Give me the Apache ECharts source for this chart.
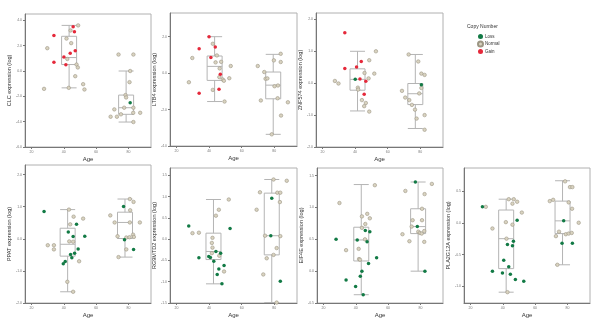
<!DOCTYPE html>
<html>
<head>
<meta charset="utf-8">
<script src="https://cdn.jsdelivr.net/npm/echarts@6/dist/echarts.min.js"></script>
<style>
  html, body { margin: 0; padding: 0; background: #fff; }
  #chart { width: 600px; height: 326px; }
</style>
</head>
<body>
<div id="chart"></div>
<script>
// data: [age, expression]
const ageTicks = [20, 40, 60, 80]

const clcLoss = [[81.1, -2.51]]
const clcNormal = [[48.9, 3.6], [44.2, 3.2], [41.7, 2.56], [44.6, 2.2], [29.8, 1.8], [42.2, 0.95], [47.9, 0.51], [48.7, 0.28], [47.1, -0.41], [43.1, -1.33], [27.8, -1.41], [52, -1.04], [52.8, -1.46], [73.9, 1.3], [83.1, 1.3], [81.1, 0.0], [80.7, -0.88], [78.2, -1.9], [78.6, -2.09], [71.3, -3.03], [77.4, -2.9], [83.1, -2.9], [75.4, -3.42], [69, -3.61], [72.9, -3.61], [83, -3.3], [87.3, -3.3], [83.1, -4.03]]
const clcGain = [[45.8, 3.5], [33.9, 2.8], [46.6, 3.1], [33.9, 0.7], [40.1, 1.1], [44, 1.4], [47.1, 1.6], [41.3, 0.5]]
const clcBox = [[43.3, -1.33, 0.51, 1.06, 2.74, 3.6], [78.6, -4.03, -3.42, -2.9, -1.9, 0.0]]
const clcTicks = [-6, -4, -2, 0, 2, 4]

const ltb4Loss = []
const ltb4Normal = [[42.3, 1.61], [29.7, 0.83], [44.8, 0.97], [47.4, 0.62], [44, 0.59], [53.3, 0.39], [46.5, 0.26], [46.3, -0.22], [48.4, -0.35], [52.4, -0.28], [49.1, -0.42], [27.6, -0.5], [42.3, -0.92], [49.5, -1.56], [69.9, 0.39], [79.8, 0.7], [84, 1.06], [84, 0.61], [73.9, 0.06], [74.7, -0.31], [75.8, -0.29], [82.3, -0.68], [80.2, -0.72], [71.8, -1.5], [82.1, -1.38], [88.4, -1.6], [84.2, -2.33], [78.5, -3.36]]
const ltb4Gain = [[40, 2.0], [33.9, 1.34], [43.8, 1.43], [41.1, 0.86], [46.9, -0.06], [46.1, -0.88], [33.9, -1.1]]
const ltb4Box = [[43.4, -1.56, -0.4, 0.37, 0.94, 2.0], [79.4, -3.36, -1.41, -0.66, 0.06, 1.03]]
const ltb4Ticks = [-4, -2, 0, 2]

const znfLoss = [[40.1, 0.12], [80.7, -0.05]]
const znfNormal = [[52.8, 1.0], [48.7, 0.72], [45.8, 0.32], [51.8, 0.3], [48.3, 0.15], [27.6, 0.07], [29.8, -0.01], [41.7, -0.14], [44.2, -0.53], [46.6, -0.62], [45.6, -0.72], [48.7, -0.89], [41.9, -0.2], [72.9, 0.9], [78.8, 0.68], [80.7, 0.3], [82.7, 0.26], [68.8, -0.24], [70.8, -0.45], [73.3, -0.53], [74.9, -0.68], [76.8, -0.83], [77.8, -1.11], [82.7, -1.0], [82.7, -1.46], [80.7, -0.15], [79.4, -0.32]]
const znfGain = [[33.7, 1.58], [33.7, 0.46], [40.9, 0.51], [43.8, 0.68], [43, 0.13], [46.6, 0.06], [45.6, -0.35]]
const znfBox = [[41.5, -0.87, -0.22, 0.12, 0.45, 1.0], [77, -1.42, -0.67, -0.33, -0.01, 0.9]]
const znfTicks = [-2, -1, 0, 1, 2]

const ppatLoss = [[27.8, 0.85], [42.8, 0.21], [47.9, 0.45], [45.8, 0.07], [53, 0.08], [48.9, -0.32], [46.7, -0.45], [44.2, -0.49], [45, -0.59], [40.9, -0.71], [39.7, -0.78], [77, 1.01], [77.6, -0.03], [83.2, -0.33]]
const ppatNormal = [[43.2, 0.91], [46.1, 0.69], [52, 0.63], [44, 0.45], [30.1, -0.2], [33.9, -0.2], [33.9, -0.33], [43.4, -0.08], [45.8, -0.09], [49.5, -0.7], [42.2, -1.34], [45.8, -1.65], [80.9, 1.24], [83.2, 1.15], [68.8, 0.73], [71.5, 0.51], [81.1, 0.89], [80.9, 0.51], [87.1, 0.51], [73.3, 0.08], [78.7, 0.04], [80.7, 0.05], [82.9, 0.13], [83.4, 0.06], [78.7, -0.33], [73.9, -0.57]]
const ppatGain = []
const ppatBox = [[42.4, -1.65, -0.54, -0.17, 0.33, 0.91], [77.9, -0.57, 0.01, 0.51, 0.83, 1.24]]
const ppatTicks = [-2, -1, 0, 1, 2]

const rgLoss = [[27.5, 0.31], [33.75, -0.44], [39.8, -0.41], [40.8, -0.43], [42.9, -0.52], [44.2, -0.29], [47.1, -0.33], [52.9, 0.25], [46, -0.7], [49.2, -0.62], [45, -0.83], [47.9, -1.05], [78.5, 0.96], [77.9, 0.08], [83.75, -0.99]]
const rgNormal = [[29.8, 0.14], [33.75, 0.15], [42.1, 0.03], [41.7, -0.09], [42.1, -0.2], [41.7, -0.33], [44.2, 0.55], [46, 0.69], [52.1, 0.93], [46.25, -0.39], [49.2, -0.76], [71.25, 1.1], [69.2, 0.69], [79.6, 1.4], [87.7, 1.37], [81.9, 1.09], [83.75, 1.09], [83.5, 0.87], [74.4, 0.08], [83.75, 0.07], [81.5, -0.21], [79.6, -0.37], [75.4, -0.45], [73.3, -0.83], [81.5, -1.49]]
const rgGain = []
const rgBox = [[42.7, -1.05, -0.48, -0.29, 0.14, 0.93], [78.5, -1.49, -0.37, 0.08, 1.08, 1.4]]
const rgTicks = [-1.5, -1, -0.5, 0, 0.5, 1, 1.5]

const eifLoss = [[27.8, 0.5], [40.9, 0.49], [45.9, 0.64], [48.7, 0.62], [47, 0.46], [52.9, 0.21], [47.9, 0.12], [43.8, 0.0], [42.8, -0.08], [34, -0.14], [39.9, -0.24], [44.6, -0.37], [76.9, 1.4], [78.1, 0.7], [82.8, 0.0]]
const eifNormal = [[29.9, 1.07], [51.8, 1.35], [43.8, 0.86], [47.1, 0.9], [48.7, 0.83], [45.9, 0.74], [43.8, 0.68], [45.7, 0.5], [34, 0.33], [41.8, 0.35], [42, 0.19], [42.6, 0.18], [70.7, 1.26], [87.1, 1.37], [82.6, 1.21], [81, 0.98], [75.2, 0.8], [81, 0.8], [68.9, 0.58], [74.6, 0.7], [78.7, 0.62], [79.7, 0.6], [80.8, 0.59], [82.4, 0.63], [73.2, 0.47], [82.4, 0.46]]
const eifGain = []
const eifBox = [[43.4, -0.37, 0.16, 0.49, 0.69, 1.36], [78.6, 0.0, 0.59, 0.7, 0.98, 1.4]]
const eifTicks = [-0.5, 0, 0.5, 1, 1.5]

const plaLoss = [[27.4, 0.25], [48.9, 0.04], [42.9, -0.34], [46, -0.36], [46.6, -0.29], [40.6, -0.59], [43.7, -0.69], [33.6, -0.76], [39.8, -0.79], [44.7, -0.81], [47.8, -0.89], [53, -0.92], [77.7, 0.03], [76.7, -0.32], [83.1, -0.32]]
const plaNormal = [[29.5, 0.25], [33.6, -0.09], [43.7, 0.37], [46, 0.3], [46.8, 0.37], [48.9, 0.33], [41.9, 0.01], [46, -0.03], [51.8, 0.16], [42.3, -0.25], [42.9, -1.09], [78.6, 0.65], [81.6, 0.56], [83.1, 0.56], [69.1, 0.34], [71.2, 0.36], [80.8, 0.32], [82.9, 0.22], [74.8, -0.14], [72.9, -0.21], [79, -0.18], [80.8, -0.17], [82.7, -0.16], [87, 0.0], [73.8, -0.66]]
const plaGain = []
const plaBox = [[42.1, -1.09, -0.72, -0.25, 0.2, 0.37], [77, -0.66, -0.17, 0.03, 0.34, 0.66]]
const plaTicks = [-1, -0.5, 0, 0.5]

// panel layout (px) + y ranges
const panels = [
  { name: 'CLC expression (log)', grid: [25, 14, 126, 133], y: [-6, 4.5], ticks: clcTicks, loss: clcLoss, normal: clcNormal, gain: clcGain, box: clcBox },
  { name: 'LTB4 expression (log)', grid: [170, 13, 127, 133], y: [-4, 3.3], ticks: ltb4Ticks, loss: ltb4Loss, normal: ltb4Normal, gain: ltb4Gain, box: ltb4Box },
  { name: 'ZNF574 expression (log)', grid: [316, 13, 127, 134], y: [-2, 2.2], ticks: znfTicks, loss: znfLoss, normal: znfNormal, gain: znfGain, box: znfBox },
  { name: 'PPAT expression (log)', grid: [25, 165, 126, 138], y: [-2, 2.3], ticks: ppatTicks, loss: ppatLoss, normal: ppatNormal, gain: ppatGain, box: ppatBox },
  { name: 'RG9MTD2 expression (log)', grid: [170, 168, 127, 135], y: [-1.5, 1.67], ticks: rgTicks, loss: rgLoss, normal: rgNormal, gain: rgGain, box: rgBox },
  { name: 'EIF4E expression (log)', grid: [317, 168, 126, 135], y: [-0.5, 1.62], ticks: eifTicks, loss: eifLoss, normal: eifNormal, gain: eifGain, box: eifBox },
  { name: 'PLA2G12A expression (log)', grid: [464, 168, 126, 135], y: [-1.26, 0.86], ticks: plaTicks, loss: plaLoss, normal: plaNormal, gain: plaGain, box: plaBox }
]

const FONT = 'Liberation Sans'
const lossColor = '#127a45'
const normalColor = '#d9d3c0'
const gainColor = '#e5283a'

const grids = []
const xAxes = []
const yAxes = []
const series = []

panels.forEach((p, i) => {
  grids.push({
    left: p.grid[0], top: p.grid[1], width: p.grid[2], height: p.grid[3],
    show: true, borderColor: '#b0b0b0', borderWidth: 1, backgroundColor: '#fff'
  })
  xAxes.push({
    gridIndex: i, type: 'value', min: 16, max: 94,
    name: 'Age', nameLocation: 'middle', nameGap: 9,
    nameTextStyle: { fontFamily: FONT, fontSize: 6, color: '#333' },
    axisLine: { onZero: false, lineStyle: { color: '#777', width: 1 } },
    axisTick: { customValues: ageTicks, length: 2, lineStyle: { color: '#777' } },
    axisLabel: { customValues: ageTicks, fontFamily: FONT, fontSize: 3.5, color: '#777', margin: 3 },
    splitLine: { show: false }
  })
  yAxes.push({
    gridIndex: i, type: 'value', min: p.y[0], max: p.y[1],
    name: p.name, nameLocation: 'middle', nameGap: 13, nameRotate: 90,
    nameTextStyle: { fontFamily: FONT, fontSize: 5.5, color: '#333' },
    axisLine: { onZero: false, lineStyle: { color: '#777', width: 1 } },
    axisTick: { customValues: p.ticks, length: 2, lineStyle: { color: '#777' } },
    axisLabel: { customValues: p.ticks, fontFamily: FONT, fontSize: 3.5, color: '#777', margin: 3,
      formatter: v => v.toFixed(1) },
    splitLine: { show: false }
  })
  series.push({
    type: 'boxplot', xAxisIndex: i, yAxisIndex: i, z: 1,
    boxWidth: [15, 15], data: p.box, silent: true,
    itemStyle: { color: 'rgba(0,0,0,0)', borderColor: '#b4b4b4', borderWidth: 1 }
  })
  series.push({
    name: 'Normal', type: 'scatter', xAxisIndex: i, yAxisIndex: i, z: 3,
    symbolSize: 3.5, data: p.normal,
    itemStyle: { color: normalColor, borderColor: '#9c9684', borderWidth: 0.6, opacity: 1 }
  })
  series.push({
    name: 'Loss', type: 'scatter', xAxisIndex: i, yAxisIndex: i, z: 4,
    symbolSize: 3.5, data: p.loss,
    itemStyle: { color: lossColor, opacity: 1 }
  })
  series.push({
    name: 'Gain', type: 'scatter', xAxisIndex: i, yAxisIndex: i, z: 4,
    symbolSize: 3.5, data: p.gain,
    itemStyle: { color: gainColor, opacity: 1 }
  })
})

const option = {
  animation: false,
  backgroundColor: '#fff',
  title: {
    text: 'Copy Number', left: 462, top: 19,
    textStyle: { fontFamily: FONT, fontSize: 5, fontWeight: 'normal', color: '#333' }
  },
  legend: {
    data: ['Loss', 'Normal', 'Gain'],
    orient: 'vertical', left: 472, top: 29,
    itemWidth: 5, itemHeight: 5, itemGap: 1.5, icon: 'circle',
    textStyle: { fontFamily: FONT, fontSize: 4.5, color: '#333', padding: [0, 0, 0, -3] }
  },
  grid: grids,
  xAxis: xAxes,
  yAxis: yAxes,
  series: series
}

const chart = echarts.init(document.getElementById('chart'), null, { renderer: 'canvas' })
chart.setOption(option)
</script>
</body>
</html>
